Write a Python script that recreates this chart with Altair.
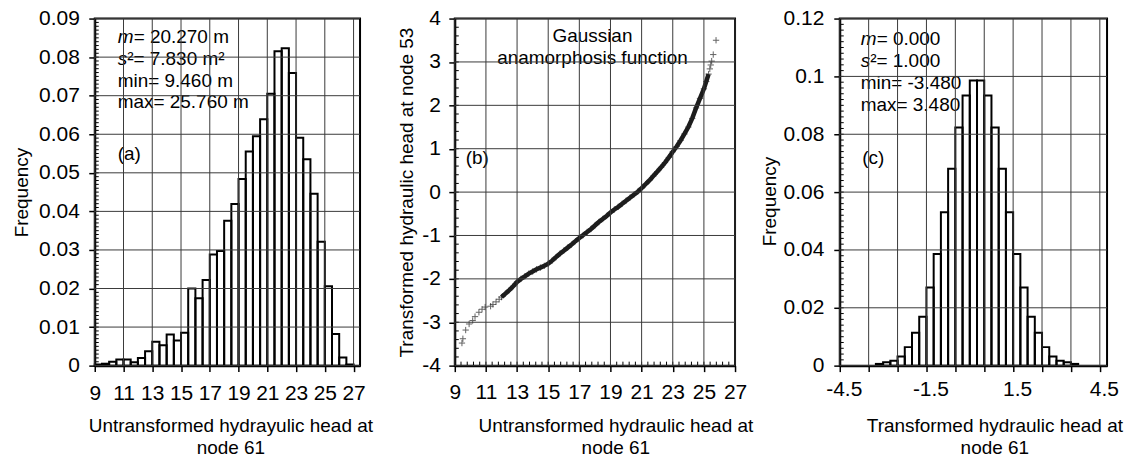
import altair as alt
import pandas as pd

FONT = "Liberation Sans"

# ---------------- Panel (a): histogram of untransformed head ----------------
A_BIN_LO = [9.0, 9.5, 10.0, 10.5, 11.0, 11.5, 12.0, 12.5, 13.0, 13.5, 14.0, 14.5,
            15.0, 15.5, 16.0, 16.5, 17.0, 17.5, 18.0, 18.5, 19.0, 19.5, 20.0, 20.5,
            21.0, 21.5, 22.0, 22.5, 23.0, 23.5, 24.0, 24.5, 25.0, 25.5, 26.0, 26.5]
A_FREQ = [0.0003, 0.0005, 0.0010, 0.0016, 0.0016, 0.0009, 0.0020, 0.0037, 0.0062,
          0.0053, 0.0081, 0.0065, 0.0085, 0.0200, 0.0175, 0.0222, 0.0288, 0.0297,
          0.0376, 0.0419, 0.0484, 0.0555, 0.0595, 0.0639, 0.0705, 0.0815, 0.0823,
          0.0759, 0.0591, 0.0535, 0.0446, 0.0321, 0.0206, 0.0082, 0.0021, 0.0003]
A_XTICKS = [9, 11, 13, 15, 17, 19, 21, 23, 25, 27]
A_YTICKS = [0, 0.01, 0.02, 0.03, 0.04, 0.05, 0.06, 0.07, 0.08, 0.09]
A_XTITLE = ["Untransformed hydrayulic head at", "node 61"]
A_YTITLE = "Frequency"
A_NOTES = ["= 20.270 m", "\u00b2= 7.830 m\u00b2", "min= 9.460 m", "max= 25.760 m", "(a)"]

# ---------------- Panel (b): Gaussian anamorphosis ----------------
B_CURVE_X = [12.0, 12.25, 12.5, 12.75, 13.0, 13.25, 13.5, 13.75, 14.0, 14.25, 14.5,
             14.75, 15.0, 15.25, 15.5, 15.75, 16.0, 16.25, 16.5, 16.75, 17.0, 17.25,
             17.5, 17.75, 18.0, 18.25, 18.5, 18.75, 19.0, 19.25, 19.5, 19.75, 20.0,
             20.25, 20.5, 20.75, 21.0, 21.25, 21.5, 21.75, 22.0, 22.25, 22.5, 22.75,
             23.0, 23.25, 23.5, 23.75, 24.0, 24.25, 24.5, 24.75, 25.0, 25.15, 25.3]
B_CURVE_Y = [-2.42, -2.34, -2.26, -2.17, -2.07, -2.00, -1.94, -1.88, -1.83, -1.78, -1.74,
             -1.70, -1.65, -1.58, -1.50, -1.42, -1.35, -1.28, -1.21, -1.13, -1.06, -0.99,
             -0.92, -0.85, -0.77, -0.69, -0.62, -0.55, -0.47, -0.40, -0.34, -0.27, -0.20,
             -0.13, -0.06, 0.01, 0.09, 0.18, 0.27, 0.37, 0.47, 0.57, 0.68, 0.80,
             0.93, 1.05, 1.19, 1.34, 1.50, 1.70, 1.94, 2.16, 2.38, 2.55, 2.72]
B_TAIL_X = [9.46, 9.52, 9.70, 9.92, 10.15, 10.30, 10.55, 10.75, 10.95, 11.30, 11.45,
            11.65, 11.85, 25.38, 25.44, 25.50, 25.60, 25.78]
B_TAIL_Y = [-3.48, -3.38, -3.18, -3.04, -2.96, -2.87, -2.77, -2.70, -2.65, -2.63, -2.59,
            -2.53, -2.47, 2.84, 2.93, 3.02, 3.17, 3.50]
B_XTICKS = [9, 11, 13, 15, 17, 19, 21, 23, 25, 27]
B_YTICKS = [-4, -3, -2, -1, 0, 1, 2, 3, 4]
B_XTITLE = ["Untransformed hydraulic head at", "node 61"]
B_YTITLE = "Transformed hydraulic head at node 53"
B_NOTES = ["Gaussian", "anamorphosis function", "(b)"]

# ---------------- Panel (c): histogram of transformed head ----------------
C_BIN_LO = [-3.25, -3.0, -2.75, -2.5, -2.25, -2.0, -1.75, -1.5, -1.25, -1.0, -0.75,
            -0.5, -0.25, 0.0, 0.25, 0.5, 0.75, 1.0, 1.25, 1.5, 1.75, 2.0, 2.25, 2.5,
            2.75, 3.0, 3.25, 3.5]
C_FREQ = [0.0006, 0.0012, 0.0017, 0.0032, 0.0064, 0.0114, 0.0169, 0.0270, 0.0386,
          0.0530, 0.0681, 0.0823, 0.0934, 0.0986, 0.0986, 0.0934, 0.0823, 0.0681,
          0.0530, 0.0386, 0.0270, 0.0169, 0.0114, 0.0064, 0.0032, 0.0017, 0.0012, 0.0006]
C_XTICKS = [-4.5, -3.5, -2.5, -1.5, -0.5, 0.5, 1.5, 2.5, 3.5, 4.5]
C_YTICKS = [0, 0.02, 0.04, 0.06, 0.08, 0.1, 0.12]
C_XTITLE = ["Transformed hydraulic head at", "node 61"]
C_YTITLE = "Frequency"
C_NOTES = ["= 0.000", "\u00b2= 1.000", "min= -3.480", "max= 3.480", "(c)"]

# minor tick positions (axis decoration)
A_YMINOR = [round(0.001 * i, 3) for i in range(91)]
B_YMINOR = [round(-4 + 0.2 * i, 1) for i in range(41)]
B_XMINOR = [round(9 + 0.4 * i, 1) for i in range(46)]
C_YMINOR = [round(0.002 * i, 3) for i in range(61)]

H = 348
WA, WB, WC = 266, 281, 268
TOP = 16.7
FS_NOTE = 19
GRID = "#3a3a3a"


def note(text, x, y, italic=False, align="left"):
    return alt.Chart(pd.DataFrame({"t": [text]})).mark_text(
        font=FONT, fontSize=FS_NOTE, align=align, baseline="alphabetic",
        fontStyle="italic" if italic else "normal", color="black"
    ).encode(text="t:N", x=alt.value(x), y=alt.value(y))


def spacer(x, x2, y, y2):
    # invisible element used only to reserve layout room around a panel
    return alt.Chart(pd.DataFrame({"k": [0]})).mark_rule(
        strokeOpacity=0, strokeWidth=1
    ).encode(x=alt.value(x), x2=alt.value(x2), y=alt.value(y), y2=alt.value(y2))


def h_rules(values, field, scale, x0, x1, color):
    return alt.Chart(pd.DataFrame({field: values})).mark_rule(
        color=color, strokeWidth=1
    ).encode(y=alt.Y(f"{field}:Q", scale=scale, axis=None), x=alt.value(x0), x2=alt.value(x1))


def v_rules(values, field, scale, y0, y1, color):
    return alt.Chart(pd.DataFrame({field: values})).mark_rule(
        color=color, strokeWidth=1
    ).encode(x=alt.X(f"{field}:Q", scale=scale, axis=None), y=alt.value(y0), y2=alt.value(y1))


def x_axis(values, title, tx, lpad, label_expr="''+datum.value", loff=0):
    return alt.Axis(values=values, title=title, grid=False, labelExpr=label_expr,
                    titleX=tx, titleY=51, titleBaseline="top", titleAlign="center",
                    titleLineHeight=22, tickSize=6, labelPadding=lpad, labelOffset=loff)


def y_axis(values, title, tx, ty, lpad):
    return alt.Axis(values=values, title=title, grid=False, labelExpr="''+datum.value",
                    titleX=tx, titleY=ty, titleAngle=-90, titleBaseline="middle",
                    titleAlign="center", tickSize=6, labelPadding=lpad)


# ----- panel a -----
sxA = alt.Scale(domain=[9, 27.45], nice=False, zero=False)
syA = alt.Scale(domain=[0, 0.09], nice=False, zero=False)
barsA = alt.Chart(pd.DataFrame({"lo": A_BIN_LO, "f": A_FREQ})).transform_calculate(
    hi="datum.lo + 0.5"
).mark_bar(fill="transparent", stroke="black", strokeWidth=2).encode(
    x=alt.X("lo:Q", scale=sxA, axis=x_axis(A_XTICKS, A_XTITLE, 136, 11)),
    x2="hi:Q",
    y=alt.Y("f:Q", scale=syA, axis=y_axis(A_YTICKS, A_YTITLE, -73, 174, 9.5)),
    y2=alt.datum(0),
)
panelA = alt.layer(
    barsA,
    h_rules(A_YMINOR, "ma", syA, 0, 4, "black"),
    spacer(-93.7, 0, H / 2, H / 2), spacer(WA / 2, WA / 2, -TOP, 0),
    spacer(WA, WA + 27.6, H / 2, H / 2),
    note("m", 23, 25, italic=True), note(A_NOTES[0], 39, 25),
    note("s", 23, 47, italic=True), note(A_NOTES[1], 32.5, 47),
    note(A_NOTES[2], 23, 68.5), note(A_NOTES[3], 23, 90),
    note(A_NOTES[4], 23, 142),
    h_rules(A_YTICKS, "ga", syA, 0, WA, GRID),
    v_rules(A_XTICKS, "gb", sxA, 0, H, GRID),
).resolve_scale(x="independent", y="independent").properties(width=WA, height=H)

# ----- panel b -----
sxB = alt.Scale(domain=[9, 27], nice=False, zero=False)
syB = alt.Scale(domain=[-4, 4], nice=False, zero=False)
dfB_curve = pd.DataFrame({"x": B_CURVE_X, "y": B_CURVE_Y})
dfB_all = pd.DataFrame({"px": B_CURVE_X + B_TAIL_X, "py": B_CURVE_Y + B_TAIL_Y})
bandB = alt.Chart(dfB_curve).mark_line(color="#1c1c1c", strokeWidth=4.5).encode(
    x=alt.X("x:Q", scale=sxB, axis=x_axis(B_XTICKS, B_XTITLE, 161, 10)),
    y=alt.Y("y:Q", scale=syB, axis=y_axis(B_YTICKS, B_YTITLE, -48, 174, 8.5)),
)
ptsB = alt.Chart(dfB_all).mark_point(
    shape="M-1,0L1,0M0,-1L0,1", filled=False, size=40, strokeWidth=1, color="#222"
).encode(x=alt.X("px:Q", scale=sxB, axis=None), y=alt.Y("py:Q", scale=syB, axis=None))
panelB = alt.layer(
    bandB, ptsB,
    h_rules(B_YMINOR, "ma", syB, 0, 4, "black"),
    v_rules(B_XMINOR, "mb", sxB, H - 4, H, "black"),
    spacer(-65, 0, H / 2, H / 2), spacer(WB / 2, WB / 2, -TOP, 0),
    spacer(WB, WB + 20.5, H / 2, H / 2),
    note(B_NOTES[0], 138, 24, align="center"),
    note(B_NOTES[1], 138, 46, align="center"),
    note(B_NOTES[2], 11, 146),
    h_rules(B_YTICKS, "ga", syB, 0, WB, GRID),
    v_rules(B_XTICKS, "gb", sxB, 0, H, GRID),
).resolve_scale(x="independent", y="independent").properties(width=WB, height=H)

# ----- panel c -----
sxC = alt.Scale(domain=[-4.5, 4.75], nice=False, zero=False)
syC = alt.Scale(domain=[0, 0.12], nice=False, zero=False)
barsC = alt.Chart(pd.DataFrame({"lo": C_BIN_LO, "f": C_FREQ})).transform_calculate(
    hi="datum.lo + 0.25"
).mark_bar(fill="transparent", stroke="black", strokeWidth=2).encode(
    x=alt.X("lo:Q", scale=sxC, axis=x_axis(
        C_XTICKS, C_XTITLE, 155, 7,
        label_expr="abs(datum.value) == 4.5 || abs(datum.value) == 1.5 ? '' + datum.value : ''",
        loff=4)),
    x2="hi:Q",
    y=alt.Y("f:Q", scale=syC, axis=y_axis(C_YTICKS, C_YTITLE, -70, 183, 10)),
    y2=alt.datum(0),
)
panelC = alt.layer(
    barsC,
    h_rules(C_YMINOR, "ma", syC, 0, 4, "black"),
    spacer(-82, 0, H / 2, H / 2), spacer(WC / 2, WC / 2, -TOP, 0),
    note("m", 21, 26.5, italic=True), note(C_NOTES[0], 37, 26.5),
    note("s", 21, 48.5, italic=True), note(C_NOTES[1], 30.5, 48.5),
    note(C_NOTES[2], 21, 70.5), note(C_NOTES[3], 21, 92.5),
    note(C_NOTES[4], 22.5, 146),
    h_rules(C_YTICKS, "ga", syC, 0, WC, GRID),
    v_rules(C_XTICKS, "gb", sxC, 0, H, GRID),
).resolve_scale(x="independent", y="independent").properties(width=WC, height=H)

chart = alt.hconcat(panelA, panelB, panelC, spacing=0).properties(
    padding={"left": 0, "top": 0, "right": 0, "bottom": 0},
    background="white",
).configure_axis(
    labelFont=FONT, titleFont=FONT, labelColor="black", titleColor="black",
    labelFontSize=21, titleFontSize=19, titleFontWeight="normal",
    domainColor="black", domainWidth=2, tickColor="black", tickWidth=1.5,
    labelOverlap=False, labelFlush=False,
).configure_view(stroke="black", strokeWidth=2)

chart.save("out.html", embed_options={"renderer": "svg", "actions": False})
